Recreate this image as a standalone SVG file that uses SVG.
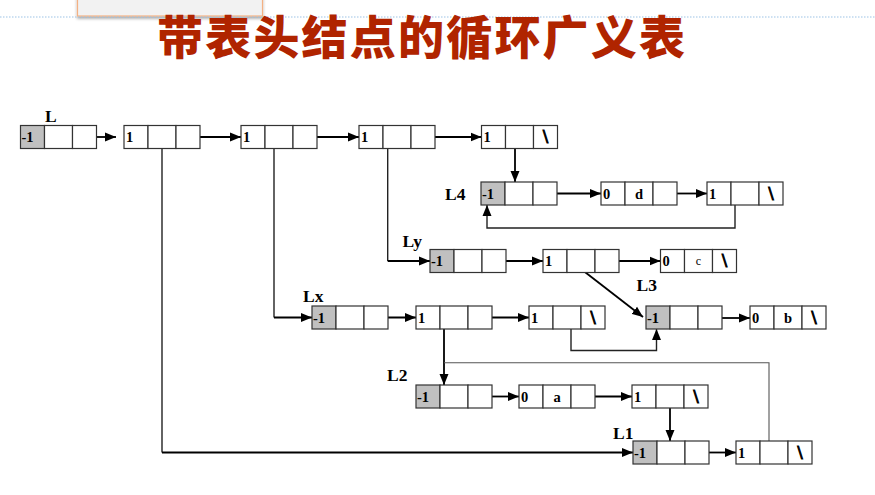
<svg xmlns="http://www.w3.org/2000/svg" width="875" height="495" viewBox="0 0 875 495">
<defs>
<marker id="ah" markerUnits="userSpaceOnUse" markerWidth="12" markerHeight="10" refX="11" refY="5" orient="auto">
<path d="M0,0.5 L11,5 L0,9.5 Z" fill="#000"/>
</marker>
<filter id="sh" x="-10%" y="-50%" width="120%" height="200%">
<feDropShadow dx="0" dy="2" stdDeviation="1.5" flood-color="#000" flood-opacity="0.35"/>
</filter>
</defs>
<style>
.c{fill:#fff;stroke:#333;stroke-width:1.2}
.g{fill:#c0c0c0;stroke:#333;stroke-width:1.2}
.t{font-family:"Liberation Serif",serif;font-weight:bold;font-size:14.5px;fill:#000}
.m{font-family:"Liberation Serif",serif;font-weight:bold;font-size:14.5px;fill:#000;text-anchor:middle}
.bs{font-family:"Liberation Serif",serif;font-weight:bold;font-size:18px;fill:#000;stroke:#000;stroke-width:0.9;text-anchor:middle}
.lb{font-family:"Liberation Serif",serif;font-weight:bold;font-size:17.5px;fill:#000}
.a{fill:none;stroke:#000;stroke-width:1.8;marker-end:url(#ah)}
.v{fill:none;stroke:#222;stroke-width:1.4}
.va{fill:none;stroke:#222;stroke-width:1.4;marker-end:url(#ah)}
.th{fill:none;stroke:#555;stroke-width:1.1}
</style>
<rect width="875" height="495" fill="#fff"/>
<rect x="77.5" y="-5" width="185" height="21" fill="#f2f2f2" stroke="#f4b183" stroke-width="1.2" filter="url(#sh)"/>
<line x1="0" y1="17" x2="875" y2="17" stroke="#9dc3e6" stroke-width="1.2" stroke-dasharray="1.5 1.5"/>
<text x="421" y="54" text-anchor="middle" textLength="528" lengthAdjust="spacing" font-family="'Noto Sans CJK SC',sans-serif" font-weight="900" font-size="46" fill="#b02400">带表头结点的循环广义表</text>

<g id="labels">
<text class="lb" x="45" y="122">L</text>
<text class="lb" x="445" y="200">L4</text>
<text class="lb" x="402.5" y="247">Ly</text>
<text class="lb" x="303" y="302">Lx</text>
<text class="lb" x="636.5" y="291">L3</text>
<text class="lb" x="387" y="381">L2</text>
<text class="lb" x="613" y="438.5">L1</text>
</g>

<g id="connectors">
<path class="a" d="M87,137 L116,137"/>
<path class="a" d="M200,137 L241,137"/>
<path class="a" d="M317,137 L359,137"/>
<path class="a" d="M425,137 L481.5,137"/>
<path class="a" d="M515,137 L515,182"/>
<path class="a" d="M557,193.5 L601,193.5"/>
<path class="a" d="M677,193.5 L707,193.5"/>
<path class="va" d="M735,193 L735,228 L487,228 L487,205"/>
<path class="v" d="M387.7,137 L387.7,261"/>
<path class="a" d="M387.7,261 L430,261"/>
<path class="a" d="M505,261 L543,261"/>
<path class="a" d="M618,261 L660.5,261"/>
<path class="a" d="M572,262 L643,317"/>
<path class="v" d="M274,137 L274,317.5"/>
<path class="a" d="M274,317.5 L312,317.5"/>
<path class="a" d="M373,317.5 L416,317.5"/>
<path class="a" d="M487,317.5 L529,317.5"/>
<path class="va" d="M571,317 L571,350.5 L656.5,350.5 L656.5,329"/>
<path class="a" d="M722,318 L750,318"/>
<path class="a" d="M444,317 L444,385"/>
<path class="th" d="M444,362.7 L769,362.7 L769,452"/>
<path class="a" d="M491,396.5 L519,396.5"/>
<path class="a" d="M590,396.5 L632,396.5"/>
<path class="a" d="M670,396.5 L670,441"/>
<path class="v" d="M162,137 L162,452.5"/>
<path class="a" d="M162,452.5 L633,452.5"/>
<path class="a" d="M708.5,452.5 L736,452.5"/>
</g>

<g id="nodeL" transform="translate(20.5,125.5)">
<rect class="g" x="0" y="0" width="24" height="23"/><rect class="c" x="24" y="0" width="28" height="23"/><rect class="c" x="52" y="0" width="24" height="23"/>
<text class="t" x="1" y="16.5">-1</text>
</g>
<g id="nodeA" transform="translate(124,125.5)">
<rect class="c" x="0" y="0" width="24" height="23"/><rect class="c" x="24" y="0" width="28" height="23"/><rect class="c" x="52" y="0" width="24" height="23"/>
<text class="t" x="2" y="16.5">1</text>
</g>
<g id="nodeB" transform="translate(241,125.5)">
<rect class="c" x="0" y="0" width="24" height="23"/><rect class="c" x="24" y="0" width="28" height="23"/><rect class="c" x="52" y="0" width="24" height="23"/>
<text class="t" x="2" y="16.5">1</text>
</g>
<g id="nodeC" transform="translate(359,125.5)">
<rect class="c" x="0" y="0" width="24" height="23"/><rect class="c" x="24" y="0" width="28" height="23"/><rect class="c" x="52" y="0" width="24" height="23"/>
<text class="t" x="2" y="16.5">1</text>
</g>
<g id="nodeD" transform="translate(481.5,125.5)">
<rect class="c" x="0" y="0" width="24" height="23"/><rect class="c" x="24" y="0" width="28" height="23"/><rect class="c" x="52" y="0" width="24" height="23"/>
<text class="t" x="2" y="16.5">1</text><text class="bs" x="64" y="17.5">\</text>
</g>
<g id="nodeL4" transform="translate(481,182)">
<rect class="g" x="0" y="0" width="24" height="23"/><rect class="c" x="24" y="0" width="28" height="23"/><rect class="c" x="52" y="0" width="24" height="23"/>
<text class="t" x="1" y="16.5">-1</text>
</g>
<g id="nodeD0" transform="translate(601,182)">
<rect class="c" x="0" y="0" width="24" height="23"/><rect class="c" x="24" y="0" width="28" height="23"/><rect class="c" x="52" y="0" width="24" height="23"/>
<text class="t" x="2" y="16.5">0</text><text class="m" x="38" y="16.5">d</text>
</g>
<g id="nodeL4b" transform="translate(707,182)">
<rect class="c" x="0" y="0" width="24" height="23"/><rect class="c" x="24" y="0" width="28" height="23"/><rect class="c" x="52" y="0" width="24" height="23"/>
<text class="t" x="2" y="16.5">1</text><text class="bs" x="64" y="17.5">\</text>
</g>
<g id="nodeLy" transform="translate(430,249.5)">
<rect class="g" x="0" y="0" width="24" height="23"/><rect class="c" x="24" y="0" width="28" height="23"/><rect class="c" x="52" y="0" width="24" height="23"/>
<text class="t" x="1" y="16.5">-1</text>
</g>
<g id="nodeLy1" transform="translate(543,249.5)">
<rect class="c" x="0" y="0" width="24" height="23"/><rect class="c" x="24" y="0" width="28" height="23"/><rect class="c" x="52" y="0" width="24" height="23"/>
<text class="t" x="2" y="16.5">1</text>
</g>
<g id="nodeC0" transform="translate(660.5,249.5)">
<rect class="c" x="0" y="0" width="24" height="23"/><rect class="c" x="24" y="0" width="28" height="23"/><rect class="c" x="52" y="0" width="24" height="23"/>
<text class="t" x="2" y="16.5">0</text><text x="38" y="15.5" text-anchor="middle" font-family="'Liberation Serif',serif" font-size="12" fill="#000">c</text><text class="bs" x="64" y="17.5">\</text>
</g>
<g id="nodeLx" transform="translate(312,306)">
<rect class="g" x="0" y="0" width="24" height="23"/><rect class="c" x="24" y="0" width="28" height="23"/><rect class="c" x="52" y="0" width="24" height="23"/>
<text class="t" x="1" y="16.5">-1</text>
</g>
<g id="nodeLx1" transform="translate(416,306)">
<rect class="c" x="0" y="0" width="24" height="23"/><rect class="c" x="24" y="0" width="28" height="23"/><rect class="c" x="52" y="0" width="24" height="23"/>
<text class="t" x="2" y="16.5">1</text>
</g>
<g id="nodeLx2" transform="translate(529,306)">
<rect class="c" x="0" y="0" width="24" height="23"/><rect class="c" x="24" y="0" width="28" height="23"/><rect class="c" x="52" y="0" width="24" height="23"/>
<text class="t" x="2" y="16.5">1</text><text class="bs" x="64" y="17.5">\</text>
</g>
<g id="nodeL3" transform="translate(646,306)">
<rect class="g" x="0" y="0" width="24" height="23"/><rect class="c" x="24" y="0" width="28" height="23"/><rect class="c" x="52" y="0" width="24" height="23"/>
<text class="t" x="1" y="16.5">-1</text>
</g>
<g id="nodeB0" transform="translate(750,306)">
<rect class="c" x="0" y="0" width="24" height="23"/><rect class="c" x="24" y="0" width="28" height="23"/><rect class="c" x="52" y="0" width="24" height="23"/>
<text class="t" x="2" y="16.5">0</text><text class="m" x="38" y="16.5">b</text><text class="bs" x="64" y="17.5">\</text>
</g>
<g id="nodeL2" transform="translate(416,385)">
<rect class="g" x="0" y="0" width="24" height="23"/><rect class="c" x="24" y="0" width="28" height="23"/><rect class="c" x="52" y="0" width="24" height="23"/>
<text class="t" x="1" y="16.5">-1</text>
</g>
<g id="nodeA0" transform="translate(519,385)">
<rect class="c" x="0" y="0" width="24" height="23"/><rect class="c" x="24" y="0" width="28" height="23"/><rect class="c" x="52" y="0" width="24" height="23"/>
<text class="t" x="2" y="16.5">0</text><text class="m" x="38" y="16.5">a</text>
</g>
<g id="nodeL2b" transform="translate(632,385)">
<rect class="c" x="0" y="0" width="24" height="23"/><rect class="c" x="24" y="0" width="28" height="23"/><rect class="c" x="52" y="0" width="24" height="23"/>
<text class="t" x="2" y="16.5">1</text><text class="bs" x="64" y="17.5">\</text>
</g>
<g id="nodeL1" transform="translate(633,441)">
<rect class="g" x="0" y="0" width="24" height="23"/><rect class="c" x="24" y="0" width="28" height="23"/><rect class="c" x="52" y="0" width="24" height="23"/>
<text class="t" x="1" y="16.5">-1</text>
</g>
<g id="nodeL1b" transform="translate(736,441)">
<rect class="c" x="0" y="0" width="24" height="23"/><rect class="c" x="24" y="0" width="28" height="23"/><rect class="c" x="52" y="0" width="24" height="23"/>
<text class="t" x="2" y="16.5">1</text><text class="bs" x="64" y="17.5">\</text>
</g>
</svg>
